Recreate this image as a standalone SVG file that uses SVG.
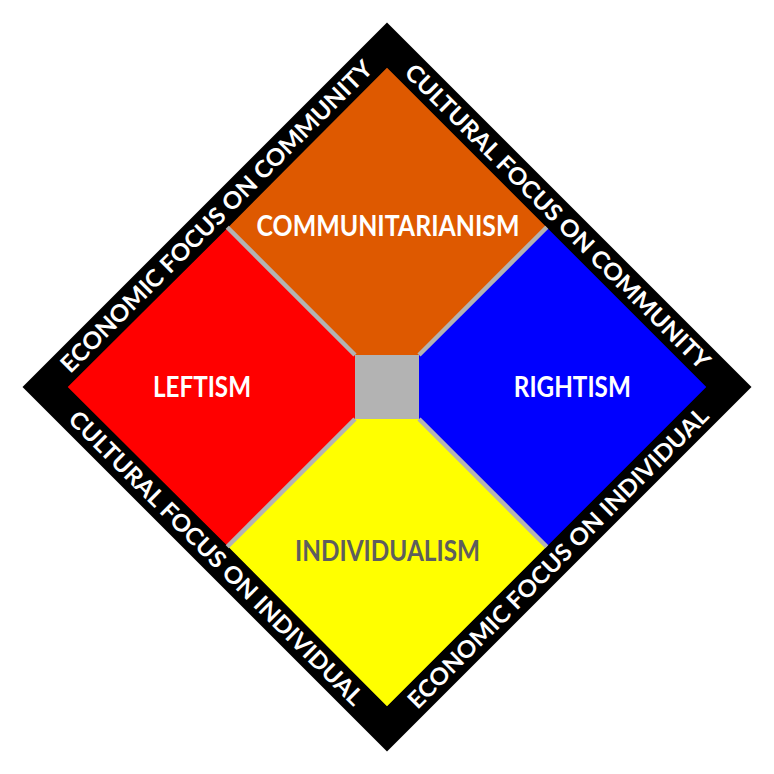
<svg xmlns="http://www.w3.org/2000/svg" width="774" height="774" viewBox="0 0 774 774">
  <style>
    .lbl { font-family: Lato, "Open Sans", "Liberation Sans", sans-serif; font-weight: 700; text-anchor: middle; }
    .main { font-size: 29px; fill: #FFFFFF; }
    .band { font-size: 23.5px; fill: #FFFFFF; }
    .sep { stroke: #B3B3B3; stroke-width: 4.5; fill: none; }
  </style>
  <defs>
    <clipPath id="innerClip">
      <polygon points="387,67.5 706.5,387 387,706.5 67.5,387"/>
    </clipPath>
  </defs>
  <rect width="774" height="774" fill="#FFFFFF"/>
  <g id="frame">
    <polygon points="387,22.5 751.5,387 387,751.5 22.5,387" fill="#000000"/>
  </g>
  <g clip-path="url(#innerClip)">
    <g id="communitarianism">
      <polygon points="387,67.5 547.25,227.75 419,355 355,355 227.75,227.75" fill="#DE5900"/>
      <text class="lbl main" x="388" y="235.5" textLength="263" lengthAdjust="spacingAndGlyphs">COMMUNITARIANISM</text>
    </g>
    <g id="rightism">
      <polygon points="547.25,227.75 706.5,387 547.25,546.25 419,419 419,355" fill="#0000FF"/>
      <text class="lbl main" x="572.3" y="396.5" textLength="117" lengthAdjust="spacingAndGlyphs">RIGHTISM</text>
    </g>
    <g id="individualism">
      <polygon points="547.25,546.25 387,706.5 227.75,546.25 355,419 419,419" fill="#FFFF00"/>
      <text class="lbl main" x="387.5" y="561" textLength="185" lengthAdjust="spacingAndGlyphs" style="fill:#5E5E5E">INDIVIDUALISM</text>
    </g>
    <g id="leftism">
      <polygon points="227.75,227.75 355,355 355,419 227.75,546.25 67.5,387" fill="#FF0000"/>
      <text class="lbl main" x="202" y="397" textLength="98" lengthAdjust="spacingAndGlyphs">LEFTISM</text>
    </g>
    <g id="connectors">
      <line class="sep" x1="355" y1="355" x2="215" y2="215"/>
      <line class="sep" x1="419" y1="355" x2="559" y2="215"/>
      <line class="sep" x1="419" y1="419" x2="559" y2="559"/>
      <line class="sep" x1="355" y1="419" x2="215" y2="559"/>
    </g>
    <g id="center">
      <rect x="355" y="355" width="64" height="64" fill="#B3B3B3"/>
    </g>
  </g>
  <g id="band-labels">
    <text class="lbl band" transform="translate(216.25,216.25) rotate(-45)" x="0" y="8.5" textLength="430" lengthAdjust="spacingAndGlyphs">ECONOMIC FOCUS ON COMMUNITY</text>
    <text class="lbl band" transform="translate(557.75,216.25) rotate(45)" x="0" y="8.5" textLength="420" lengthAdjust="spacingAndGlyphs">CULTURAL FOCUS ON COMMUNITY</text>
    <text class="lbl band" transform="translate(216.25,557.75) rotate(45)" x="0" y="8.5" textLength="405" lengthAdjust="spacingAndGlyphs">CULTURAL FOCUS ON INDIVIDUAL</text>
    <text class="lbl band" transform="translate(557.75,557.75) rotate(-45)" x="0" y="8.5" textLength="414" lengthAdjust="spacingAndGlyphs">ECONOMIC FOCUS ON INDIVIDUAL</text>
  </g>
</svg>
